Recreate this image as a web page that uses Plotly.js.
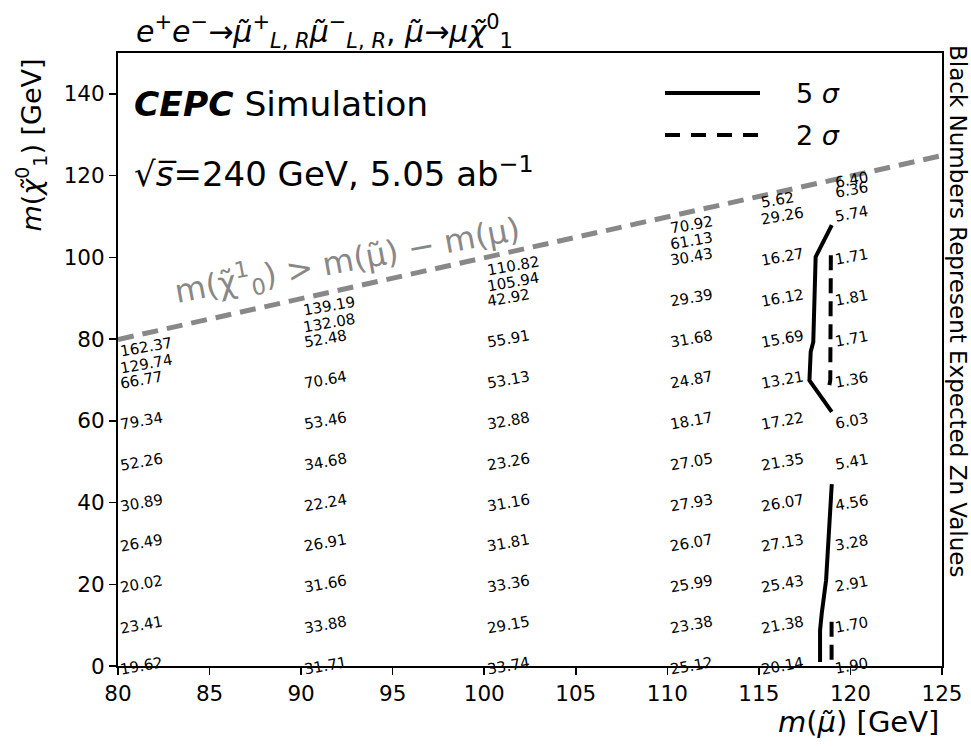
<!DOCTYPE html>
<html>
<head>
<meta charset="utf-8">
<script src="https://cdn.plot.ly/plotly-3.0.1.min.js"></script>
<style>
  html, body { margin: 0; padding: 0; background: #ffffff; }
  #chart { width: 971px; height: 747px; }
</style>
</head>
<body>
<div id="chart"></div>
<script>
// Smuon mass points (GeV) and neutralino masses with the expected Zn at each point
const smuonMass = [80, 90, 100, 110, 115, 119];

const chi_80  = [0, 10, 20, 30, 40, 50, 60, 70, 74, 78];
const zn_80   = [19.62, 23.41, 20.02, 26.49, 30.89, 52.26, 79.34, 66.77, 129.74, 162.37];

const chi_90  = [0, 10, 20, 30, 40, 50, 60, 70, 80, 84, 88];
const zn_90   = [31.71, 33.88, 31.66, 26.91, 22.24, 34.68, 53.46, 70.64, 52.48, 132.08, 139.19];

const chi_100 = [0, 10, 20, 30, 40, 50, 60, 70, 80, 90, 94, 98];
const zn_100  = [33.74, 29.15, 33.36, 31.81, 31.16, 23.26, 32.88, 53.13, 55.91, 42.92, 105.94, 110.82];

const chi_110 = [0, 10, 20, 30, 40, 50, 60, 70, 80, 90, 100, 104, 108];
const zn_110  = [25.12, 23.38, 25.99, 26.07, 27.93, 27.05, 18.17, 24.87, 31.68, 29.39, 30.43, 61.13, 70.92];

const chi_115 = [0, 10, 20, 30, 40, 50, 60, 70, 80, 90, 100, 110, 114];
const zn_115  = [20.14, 21.38, 25.43, 27.13, 26.07, 21.35, 17.22, 13.21, 15.69, 16.12, 16.27, 29.26, 5.62];

const chi_119 = [0, 10, 20, 30, 40, 50, 60, 70, 80, 90, 100, 110.5, 116.5, 119];
const zn_119  = [1.90, 1.70, 2.91, 3.28, 4.56, 5.41, 6.03, 1.36, 1.71, 1.81, 1.71, 5.74, 6.36, 6.40];

// Kinematic limit m(chi) = m(smuon) - m(mu)
const limitX = [80, 125];
const limitY = [79.894, 124.894];

// 5 sigma discovery contour (two pieces)
const fiveSigA_x = [118.98, 118.10, 117.97, 117.83, 117.76, 118.98];
const fiveSigA_y = [107.9, 100.1, 79.3, 76.9, 69.9, 62.2];
const fiveSigB_x = [118.98, 118.67, 118.43, 118.34, 118.34];
const fiveSigB_y = [44.5, 21.0, 12.8, 8.7, 1.0];

// 2 sigma exclusion contour (two pieces)
const twoSigA_x = [118.93, 118.92, 118.90, 118.85];
const twoSigA_y = [100.5, 80.0, 70.0, 68.7];
const twoSigB_x = [118.97, 118.97];
const twoSigB_y = [10.8, 1.0];

const columns = [
  [smuonMass[0], chi_80, zn_80],
  [smuonMass[1], chi_90, zn_90],
  [smuonMass[2], chi_100, zn_100],
  [smuonMass[3], chi_110, zn_110],
  [smuonMass[4], chi_115, zn_115],
  [smuonMass[5], chi_119, zn_119]
];

const FONT = 'DejaVu Sans, Liberation Sans, sans-serif';

// Plot area in page pixels, used for placing the free-standing labels
const L = 118, R = 942, T = 53, B = 666;
const px = v => (v - L) / (R - L);
const py = v => (B - v) / (B - T);

const annotations = [];

// Zn value labels, tilted, left-aligned at each mass point
columns.forEach(([mx, ys, zs]) => {
  ys.forEach((y, i) => {
    annotations.push({
      x: mx, y: y, xref: 'x', yref: 'y',
      text: zs[i].toFixed(2),
      showarrow: false, xanchor: 'left', yanchor: 'middle',
      textangle: -10, borderpad: 0,
      font: { family: FONT, size: 15, color: '#000000' }
    });
  });
});

// Label of the kinematic limit line
annotations.push({
  x: 92.5, y: 99.3, xref: 'x', yref: 'y',
  text: 'm(χ̃<sup>1</sup><sub>0</sub>) > m(μ̃) − m(μ)',
  showarrow: false, xanchor: 'center', yanchor: 'middle',
  textangle: -10.5, borderpad: 0,
  font: { family: FONT, size: 32, color: '#888888' }
});

// Experiment labels
annotations.push({
  x: px(133), y: py(104), xref: 'paper', yref: 'paper',
  text: '<b><i>CEPC</i></b> Simulation',
  showarrow: false, xanchor: 'left', yanchor: 'middle', borderpad: 0,
  font: { family: FONT, size: 34.5, color: '#000000' }
});
annotations.push({
  x: px(133), y: py(172), xref: 'paper', yref: 'paper',
  text: '√<i>s̅</i>=240 GeV, 5.05 ab<sup>−1</sup>',
  showarrow: false, xanchor: 'left', yanchor: 'middle', borderpad: 0,
  font: { family: FONT, size: 34, color: '#000000' }
});

// Legend labels
annotations.push({
  x: px(795), y: py(93), xref: 'paper', yref: 'paper',
  text: '5 <i>σ</i>', showarrow: false, xanchor: 'left', yanchor: 'middle', borderpad: 0,
  font: { family: FONT, size: 27, color: '#000000' }
});
annotations.push({
  x: px(795), y: py(135), xref: 'paper', yref: 'paper',
  text: '2 <i>σ</i>', showarrow: false, xanchor: 'left', yanchor: 'middle', borderpad: 0,
  font: { family: FONT, size: 27, color: '#000000' }
});

// Axis titles
annotations.push({
  x: px(940), y: py(722), xref: 'paper', yref: 'paper',
  text: '<i>m</i>(<i>μ̃</i>) [GeV]', showarrow: false,
  xanchor: 'right', yanchor: 'middle', borderpad: 0,
  font: { family: FONT, size: 29, color: '#000000' }
});
annotations.push({
  x: px(31), y: py(58), xref: 'paper', yref: 'paper',
  text: '<i>m</i>(<i>χ̃</i><sup>0</sup><sub>1</sub>) [GeV]', showarrow: false,
  xanchor: 'center', yanchor: 'top', textangle: -90, borderpad: 0,
  font: { family: FONT, size: 27, color: '#000000' }
});

// Side note
annotations.push({
  x: px(958), y: py(44), xref: 'paper', yref: 'paper',
  text: 'Black Numbers Represent Expected Zn Values', showarrow: false,
  xanchor: 'center', yanchor: 'top', textangle: 90, borderpad: 0,
  font: { family: FONT, size: 23, color: '#000000' }
});

// Legend sample lines
const shapes = [
  { type: 'line', xref: 'paper', yref: 'paper', x0: px(665), x1: px(760), y0: py(93), y1: py(93),
    line: { color: '#000000', width: 4 } },
  { type: 'line', xref: 'paper', yref: 'paper', x0: px(665), x1: px(760), y0: py(135), y1: py(135),
    line: { color: '#000000', width: 4, dash: '15px,11px' } }
];

const traces = [
  { x: limitX, y: limitY, mode: 'lines', showlegend: false, hoverinfo: 'skip',
    line: { color: '#888888', width: 5, dash: '16px,9px' } },
  { x: fiveSigA_x, y: fiveSigA_y, mode: 'lines', name: '5 σ', showlegend: false,
    line: { color: '#000000', width: 4 } },
  { x: fiveSigB_x, y: fiveSigB_y, mode: 'lines', name: '5 σ', showlegend: false,
    line: { color: '#000000', width: 4 } },
  { x: twoSigA_x, y: twoSigA_y, mode: 'lines', name: '2 σ', showlegend: false,
    line: { color: '#000000', width: 4, dash: '15px,8px' } },
  { x: twoSigB_x, y: twoSigB_y, mode: 'lines', name: '2 σ', showlegend: false,
    line: { color: '#000000', width: 4, dash: '15px,8px' } }
];

const axisCommon = {
  showgrid: false, zeroline: false,
  showline: true, linecolor: '#000000', linewidth: 2, mirror: true,
  ticks: 'outside', ticklen: 7, tickwidth: 1.5, tickcolor: '#000000',
  tickfont: { family: FONT, size: 21.5, color: '#000000' }
};

const layout = {
  width: 971, height: 747,
  paper_bgcolor: '#ffffff', plot_bgcolor: '#ffffff',
  margin: { l: L, r: 971 - R, t: T, b: 747 - B, pad: 0 },
  font: { family: FONT, color: '#000000' },
  title: {
    text: '<i>e</i><sup>+</sup><i>e</i><sup>−</sup>→<i>μ̃</i><sup>+</sup><sub><i>L</i>, <i>R</i></sub><i>μ̃</i><sup>−</sup><sub><i>L</i>, <i>R</i></sub>, <i>μ̃</i>→<i>μ</i><i>χ̃</i><sup>0</sup><sub>1</sub>',
    x: 136 / 971, xref: 'container', xanchor: 'left',
    y: (747 - 31) / 747, yref: 'container', yanchor: 'middle',
    font: { family: FONT, size: 30, color: '#000000' }
  },
  xaxis: Object.assign({}, axisCommon, { range: [80, 125], dtick: 5, tick0: 80 }),
  yaxis: Object.assign({}, axisCommon, { range: [0, 150], dtick: 20, tick0: 0 }),
  showlegend: false,
  annotations: annotations,
  shapes: shapes
};

Plotly.newPlot('chart', traces, layout, { displayModeBar: false, staticPlot: true });
</script>
</body>
</html>
